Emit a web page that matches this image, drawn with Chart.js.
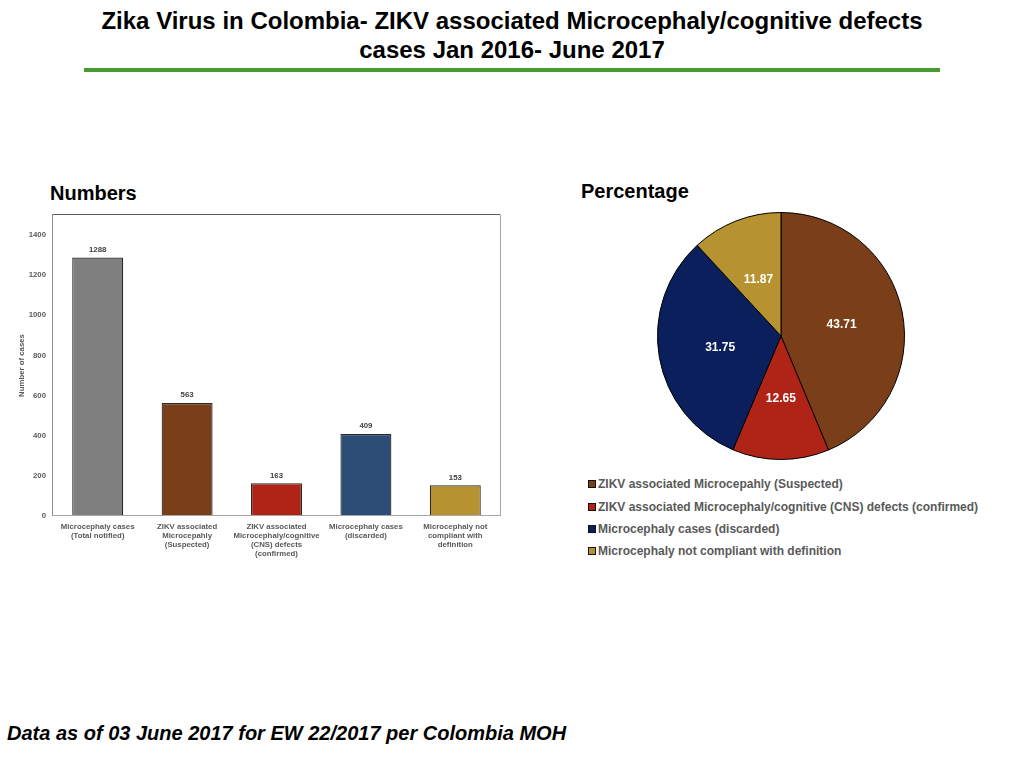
<!DOCTYPE html>
<html>
<head>
<meta charset="utf-8">
<title>Zika Virus in Colombia</title>
<script src="https://cdn.jsdelivr.net/npm/chart.js@4"></script>
<style>
  html, body { margin: 0; padding: 0; background: #fff; }
  body { width: 1024px; height: 768px; position: relative; overflow: hidden; font-family: "Liberation Sans", Arial, sans-serif; }
  .abs { position: absolute; font-weight: bold; color: #000; white-space: nowrap; }
  #title { left: 0; width: 1024px; top: 6px; text-align: center; font-size: 24px; line-height: 29px; }
  #rule { position: absolute; left: 84px; top: 68px; width: 856px; height: 4px; background: #4a9a32; }
  #numbers { left: 50px; top: 182px; font-size: 20px; }
  #percentage { left: 581px; top: 180px; font-size: 20px; }
  #footer { left: 7px; top: 722px; font-size: 20px; font-style: italic; }
  canvas { position: absolute; }
  #bar-chart { left: 0; top: 200px; }
  #pie-chart { left: 655px; top: 210px; }
  #pie-legend { position: absolute; left: 588px; top: 473px; }
  .row { display: flex; align-items: center; height: 22.4px; font-size: 12px; font-weight: bold; color: #595959; white-space: nowrap; }
  .swatch { width: 6px; height: 6px; border: 1px solid #111; margin-right: 2px; }
</style>
</head>
<body>
<div class="abs" id="title">Zika Virus in Colombia- ZIKV associated Microcephaly/cognitive defects<br>cases Jan 2016- June 2017</div>
<div id="rule"></div>
<div class="abs" id="numbers">Numbers</div>
<div class="abs" id="percentage">Percentage</div>
<canvas id="bar-chart" width="520" height="370"></canvas>
<canvas id="pie-chart" width="252" height="252"></canvas>
<div id="pie-legend"></div>
<div class="abs" id="footer">Data as of 03 June 2017 for EW 22/2017 per Colombia MOH</div>

<script>
const barLabels = [
  ["Microcephaly cases", "(Total notified)"],
  ["ZIKV associated", "Microcepahly", "(Suspected)"],
  ["ZIKV associated", "Microcephaly/cognitive", "(CNS) defects", "(confirmed)"],
  ["Microcephaly cases", "(discarded)"],
  ["Microcephaly not", "compliant with", "definition"]
];
const barValues = [1288, 563, 163, 409, 153];
const barColors = ["#7f7f7f", "#7a3f19", "#b02417", "#2c4d75", "#b79230"];
const yTicks = [0, 200, 400, 600, 800, 1000, 1200, 1400];

const pieLabels = [
  "ZIKV associated Microcepahly (Suspected)",
  "ZIKV associated Microcephaly/cognitive (CNS) defects (confirmed)",
  "Microcephaly cases (discarded)",
  "Microcephaly not compliant with definition"
];
const pieValues = [43.71, 12.65, 31.75, 11.87];
const pieColors = ["#7a3f19", "#b02417", "#0a1f5c", "#b79230"];

const fontFamily = '"Liberation Sans", Arial, sans-serif';
const greyText = "#595959";

// value printed on each bar or slice
const valueLabels = {
  id: "valueLabels",
  afterDatasetsDraw(chart, args, opts) {
    const ctx = chart.ctx;
    const values = chart.data.datasets[0].data;
    ctx.save();
    ctx.font = `bold ${opts.size}px ${fontFamily}`;
    ctx.fillStyle = opts.color;
    ctx.textAlign = "center";
    ctx.textBaseline = opts.above ? "bottom" : "middle";
    chart.getDatasetMeta(0).data.forEach((el, i) => {
      const p = opts.above ? el.tooltipPosition() : el.getCenterPoint();
      ctx.fillText(values[i], p.x, opts.above ? p.y - 4 : p.y + 1);
    });
    ctx.restore();
  }
};

// plot frame: darker on top and left, lighter on right and bottom
const plotFrame = {
  id: "plotFrame",
  afterDraw(chart) {
    const { ctx, chartArea: a } = chart;
    const line = (x1, y1, x2, y2, color) => {
      ctx.strokeStyle = color;
      ctx.beginPath();
      ctx.moveTo(x1, y1);
      ctx.lineTo(x2, y2);
      ctx.stroke();
    };
    ctx.save();
    ctx.lineWidth = 1;
    line(a.left - 0.5, a.top - 0.5, a.right, a.top - 0.5, "#595959");
    line(a.left - 0.5, a.top - 0.5, a.left - 0.5, a.bottom, "#8c8c8c");
    line(a.right + 0.5, a.top - 0.5, a.right + 0.5, a.bottom, "#a6a6a6");
    line(a.left - 0.5, a.bottom - 0.5, a.right + 0.5, a.bottom - 0.5, "#a6a6a6");
    ctx.restore();
  }
};

new Chart(document.getElementById("bar-chart"), {
  type: "bar",
  data: {
    labels: barLabels,
    datasets: [{
      data: barValues,
      backgroundColor: barColors,
      borderColor: "#262626",
      borderWidth: 1.2,
      barPercentage: 0.57,
      categoryPercentage: 1
    }]
  },
  plugins: [valueLabels, plotFrame],
  options: {
    responsive: false,
    animation: false,
    devicePixelRatio: 1,
    layout: { padding: { left: 17, top: 15, right: 20, bottom: 0 } },
    plugins: {
      legend: { display: false },
      tooltip: { enabled: false },
      valueLabels: { size: 7.8, color: "#404040", above: true }
    },
    scales: {
      x: {
        grid: { display: false, drawTicks: false },
        border: { display: false },
        afterFit(scale) { scale.height = 54; },
        ticks: {
          maxRotation: 0,
          autoSkip: false,
          padding: 6,
          color: greyText,
          font: { family: fontFamily, size: 7.8, weight: "bold", lineHeight: 1.18 }
        }
      },
      y: {
        min: 0,
        max: 1500,
        grid: { display: false, drawTicks: false },
        border: { display: false },
        afterBuildTicks(scale) { scale.ticks = yTicks.map(value => ({ value })); },
        afterFit(scale) { scale.width = 36; },
        title: {
          display: true,
          text: "Number of cases",
          color: greyText,
          padding: 0,
          font: { family: fontFamily, size: 7.8, weight: "bold" }
        },
        ticks: {
          padding: 7,
          color: greyText,
          font: { family: fontFamily, size: 7.8, weight: "bold" },
          callback: value => String(value)
        }
      }
    }
  }
});

new Chart(document.getElementById("pie-chart"), {
  type: "pie",
  data: {
    labels: pieLabels,
    datasets: [{
      data: pieValues,
      backgroundColor: pieColors,
      borderColor: "#000000",
      borderWidth: 1
    }]
  },
  plugins: [valueLabels],
  options: {
    responsive: false,
    animation: false,
    devicePixelRatio: 1,
    layout: { padding: 2 },
    plugins: {
      legend: { display: false },
      tooltip: { enabled: false },
      valueLabels: { size: 12, color: "#ffffff", above: false }
    }
  }
});

const legendBox = document.getElementById("pie-legend");
pieLabels.forEach((label, i) => {
  const row = document.createElement("div");
  row.className = "row";
  const swatch = document.createElement("span");
  swatch.className = "swatch";
  swatch.style.background = pieColors[i];
  row.appendChild(swatch);
  row.appendChild(document.createTextNode(label));
  legendBox.appendChild(row);
});
</script>
</body>
</html>
